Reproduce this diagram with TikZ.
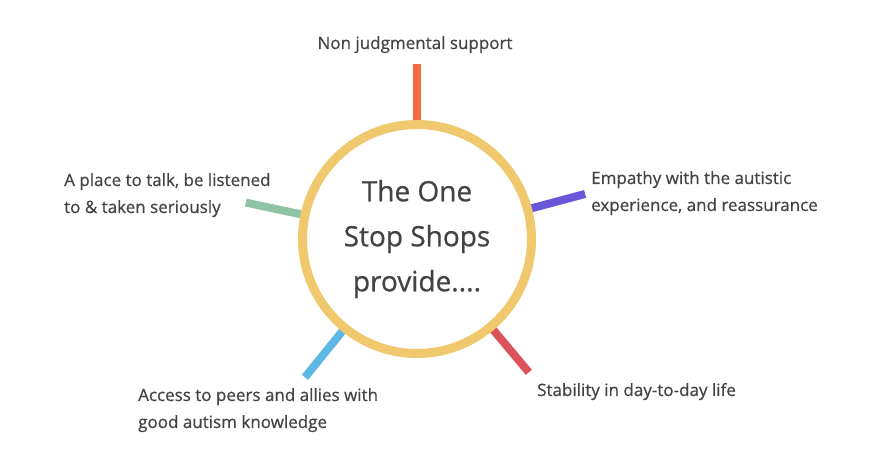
\documentclass[tikz,border=0pt]{standalone}
\usepackage{fontspec}
\setmainfont{Open Sans}[FakeBold=0.6,AutoFakeBold=0.6]
\usetikzlibrary{backgrounds}

\definecolor{ring}{HTML}{F0C96E}
\definecolor{ink}{HTML}{434343}
\definecolor{supportcol}{HTML}{F4693F}
\definecolor{empathycol}{HTML}{6A56D9}
\definecolor{stabilitycol}{HTML}{DC5359}
\definecolor{peerscol}{HTML}{5FB7E3}
\definecolor{talkcol}{HTML}{8EC4A5}

\begin{document}
\begin{tikzpicture}[x=1pt,y=1pt,
  spoke/.style={line width=8pt},
  item/.style={anchor=base west,align=left,inner sep=0pt,text=ink,font=\fontsize{17}{27}\selectfont\bfseries},
  hub/.style={circle,draw=ring,line width=9pt,fill=white,minimum size=229pt,inner sep=0pt,outer sep=0pt,align=center,text=ink,font=\fontsize{28}{45}\selectfont\bfseries}]
\useasboundingbox (0,0) rectangle (893,454);
\node [hub] (hub) at (417,215) {The One\\Stop Shops\\provide....};

\node [item,anchor=base] (support) at (415,405) {Non judgmental support};
\node [item] (empathy) at (591,243) {Empathy with the autistic\\experience, and reassurance};
\node [item] (stability) at (537,58) {Stability in day-to-day life};
\node [item] (peers) at (138,26) {Access to peers and allies with\\good autism knowledge};
\node [item] (talk) at (64,241) {A place to talk, be listened\\to \& taken seriously};

\coordinate (supportend) at ([shift={(90:175)}]hub.center);
\coordinate (empathyend) at ([shift={(15:174)}]hub.center);
\coordinate (stabilityend) at ([shift={(-50:174)}]hub.center);
\coordinate (peersend) at ([shift={(-129:178)}]hub.center);
\coordinate (talkend) at ([shift={(168:175)}]hub.center);

\begin{scope}[on background layer]
\draw [spoke,supportcol] (hub.90) -- (supportend);
\draw [spoke,empathycol] (hub.15) -- (empathyend);
\draw [spoke,stabilitycol] (hub.-50) -- (stabilityend);
\draw [spoke,peerscol] (hub.-129) -- (peersend);
\draw [spoke,talkcol] (hub.168) -- (talkend);
\end{scope}
\end{tikzpicture}
\end{document}
